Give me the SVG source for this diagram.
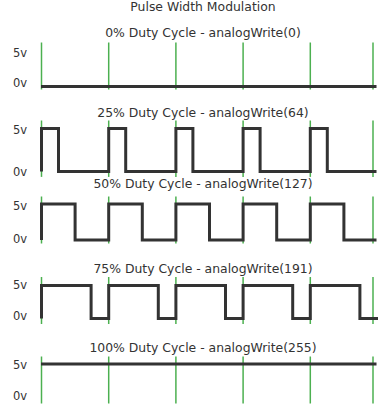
<svg xmlns="http://www.w3.org/2000/svg" width="381" height="412" viewBox="0 0 381 412">
<style>
text{font-family:"DejaVu Sans","Liberation Sans",sans-serif;fill:#333}
.t{font-size:12.4px;text-anchor:middle}
.l{font-size:11.5px}
.g{stroke:#4cb050;stroke-width:1.5;fill:none}
.w{stroke:#333;stroke-width:3;fill:none;stroke-linejoin:miter}
</style>
<defs>
<g id="grid">
<line class="g" x1="41.5" y1="0" x2="41.5" y2="47"/>
<line class="g" x1="108.7" y1="0" x2="108.7" y2="47"/>
<line class="g" x1="175.9" y1="0" x2="175.9" y2="47"/>
<line class="g" x1="243.1" y1="0" x2="243.1" y2="47"/>
<line class="g" x1="310.3" y1="0" x2="310.3" y2="47"/>
<line class="g" x1="373" y1="0" x2="373" y2="47"/>
</g>
</defs>
<text class="t" x="203" y="10.5">Pulse Width Modulation</text>
<g id="p0">
<text class="t" x="203" y="36.5">0% Duty Cycle - analogWrite(0)</text>
<text class="l" x="13" y="57">5v</text>
<text class="l" x="13" y="87">0v</text>
<use href="#grid" y="42.5"/>
<path class="w" d="M41,86.5 H376.5"/>
</g>
<g id="p25">
<text class="t" x="203" y="117">25% Duty Cycle - analogWrite(64)</text>
<text class="l" x="13" y="134">5v</text>
<text class="l" x="13" y="176">0v</text>
<use href="#grid" y="120.5" transform="translate(0,120.5) scale(1,1.2) translate(0,-120.5)"/>
<path class="w" d="M41.5,171.5 V128.5 H58.5 V171.5 H108.7 V128.5 H125.7 V171.5 H175.9 V128.5 H192.9 V171.5 H243.1 V128.5 H260.1 V171.5 H310.3 V128.5 H327.3 V171.5 H376.5"/>
</g>
<g id="p50">
<text class="t" x="203" y="188">50% Duty Cycle - analogWrite(127)</text>
<text class="l" x="13" y="210">5v</text>
<text class="l" x="13" y="243">0v</text>
<use href="#grid" y="196.5"/>
<path class="w" d="M41.5,240 V204 H75.1 V240 H108.7 V204 H142.3 V240 H175.9 V204 H209.5 V240 H243.1 V204 H276.7 V240 H310.3 V204 H343.9 V240 H376.5"/>
</g>
<g id="p75">
<text class="t" x="203" y="273">75% Duty Cycle - analogWrite(191)</text>
<text class="l" x="13" y="289">5v</text>
<text class="l" x="13" y="320">0v</text>
<use href="#grid" y="277"/>
<path class="w" d="M41.5,318.5 V285.5 H91.1 V318.5 H108.7 V285.5 H158.3 V318.5 H175.9 V285.5 H225.5 V318.5 H243.1 V285.5 H292.7 V318.5 H310.3 V285.5 H359.9 V318.5 H378"/>
</g>
<g id="p100">
<text class="t" x="203" y="352">100% Duty Cycle - analogWrite(255)</text>
<text class="l" x="13" y="369">5v</text>
<text class="l" x="13" y="400">0v</text>
<use href="#grid" y="356.5"/>
<path class="w" d="M41,364 H376.5"/>
</g>
</svg>
